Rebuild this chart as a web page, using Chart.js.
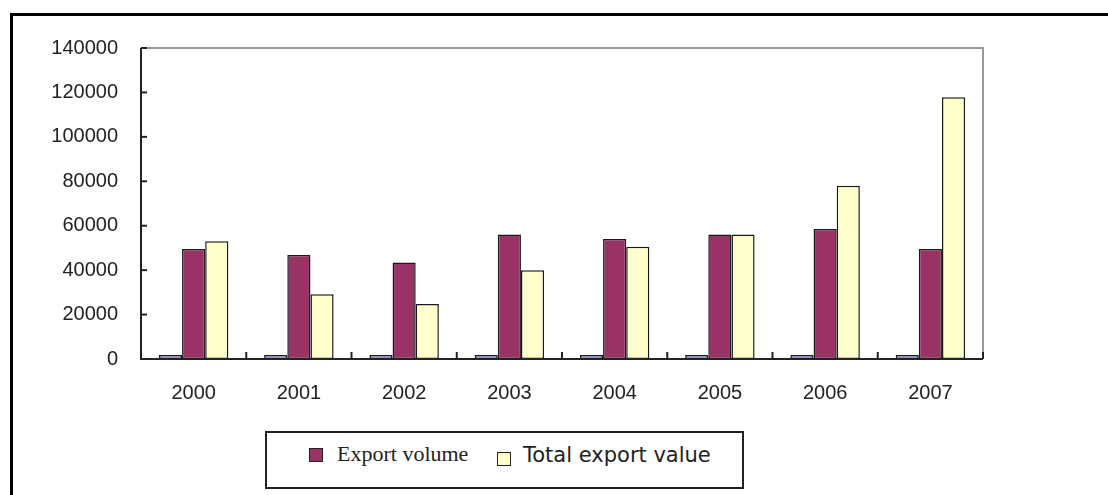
<!DOCTYPE html>
<html>
<head>
<meta charset="utf-8">
<script src="https://cdn.jsdelivr.net/npm/chart.js@4/dist/chart.umd.min.js"></script>
<style>
  body { margin: 0; background: #fff; }
  #wrap { position: relative; width: 1108px; height: 495px; overflow: hidden; }
  #frame { position: absolute; left: 10px; top: 13px; width: 1200px; height: 600px;
           border-top: 3px solid #000; border-left: 3px solid #000; }
  #chart { position: absolute; left: 0; top: 0; }
  #legend { position: absolute; left: 265px; top: 431px; width: 475px; height: 54px;
            border: 2px solid #222; background: #fff; }
  .item { position: absolute; top: 13px; white-space: nowrap; }
  .sw { position: absolute; width: 12px; height: 12px; border: 1.5px solid #222; }
</style>
</head>
<body>
<div id="wrap">
  <div id="frame"></div>
  <canvas id="chart" width="1108" height="495"></canvas>
  <div id="legend">
    <div class="sw" style="left:42px;top:15px;background:#993366"></div>
    <div class="item" style="left:70px;top:8px;font-family:'Liberation Serif',serif;font-size:22px;color:#222">Export volume</div>
    <div class="sw" style="left:230px;top:19px;background:#FFFFCC"></div>
    <div class="item" style="left:256px;top:10px;font-family:'DejaVu Sans',sans-serif;font-size:21px;color:#222">Total export value</div>
  </div>
</div>
<script>
//========================= Export bar chart =========================
var years = ["2000", "2001", "2002", "2003", "2004", "2005", "2006", "2007"];
var baseSeries = [1800, 1800, 1800, 1800, 1800, 1800, 1800, 1800];
var exportVolume = [49500, 46800, 43400, 56000, 54000, 56000, 58500, 49500];
var totalExportValue = [53000, 29200, 24800, 40000, 50500, 56000, 78000, 117800];
var yTicks = [0, 20000, 40000, 60000, 80000, 100000, 120000, 140000];

// frame + inner tick marks like the old spreadsheet chart
var framePlugin = {
    id: 'frame',
    afterDatasetsDraw: function (chart) {
        var ctx = chart.ctx;
        var a = chart.chartArea;
        var x = chart.scales.x;
        var y = chart.scales.y;
        ctx.save();
        ctx.lineWidth = 2;
        ctx.strokeStyle = '#999';
        ctx.beginPath();
        ctx.moveTo(a.left, a.top);
        ctx.lineTo(a.right, a.top);
        ctx.lineTo(a.right, a.bottom);
        ctx.stroke();
        ctx.strokeStyle = '#222';
        ctx.beginPath();
        ctx.moveTo(a.left, a.top);
        ctx.lineTo(a.left, a.bottom);
        ctx.lineTo(a.right, a.bottom);
        ctx.stroke();
        // y ticks, pointing in
        yTicks.forEach(function (v) {
            var py = y.getPixelForValue(v);
            ctx.beginPath();
            ctx.moveTo(a.left, py);
            ctx.lineTo(a.left + 6, py);
            ctx.stroke();
        });
        // x ticks at category borders
        var half = (x.getPixelForValue(1) - x.getPixelForValue(0)) / 2;
        for (var i = 0; i <= years.length; i++) {
            var px = x.getPixelForValue(i) - half;
            ctx.beginPath();
            ctx.moveTo(px, a.bottom);
            ctx.lineTo(px, a.bottom - 7);
            ctx.stroke();
        }
        ctx.restore();
    }
};

function chart(id) {
    var chrt = document.getElementById(id).getContext("2d");
    var common = {
        borderColor: '#1a1a1a',
        borderWidth: 1.5,
        borderSkipped: false,
        barPercentage: 1.0,
        categoryPercentage: 0.66,
    };
    var chartId = new Chart(chrt, {
        type: 'bar',
        data: {
            labels: years,
            datasets: [
                Object.assign({ label: "", data: baseSeries, backgroundColor: '#9999FF' }, common),
                Object.assign({ label: "Export volume", data: exportVolume, backgroundColor: '#993366' }, common),
                Object.assign({ label: "Total export value", data: totalExportValue, backgroundColor: '#FFFFCC' }, common),
            ],
        },
        options: {
            responsive: false,
            animation: false,
            layout: { padding: { left: 0, right: 125, top: 48, bottom: 0 } },
            scales: {
                x: {
                    grid: { display: false, drawTicks: false },
                    border: { display: false },
                    ticks: {
                        padding: 22,
                        color: '#222',
                        font: { family: 'Liberation Sans', size: 20 },
                    },
                    afterFit: function (s) { s.height = 136; },
                },
                y: {
                    min: 0,
                    max: 140000,
                    afterBuildTicks: function (s) {
                        s.ticks = yTicks.map(function (v) { return { value: v }; });
                    },
                    grid: { display: false, drawTicks: false },
                    border: { display: false },
                    ticks: {
                        padding: 23,
                        color: '#222',
                        font: { family: 'Liberation Sans', size: 20 },
                        callback: function (v) { return String(v); },
                    },
                    afterFit: function (s) { s.width = 141; },
                },
            },
            plugins: {
                legend: { display: false },
                tooltip: { enabled: false },
            },
        },
        plugins: [framePlugin],
    });
}

chart("chart");
</script>
</body>
</html>
